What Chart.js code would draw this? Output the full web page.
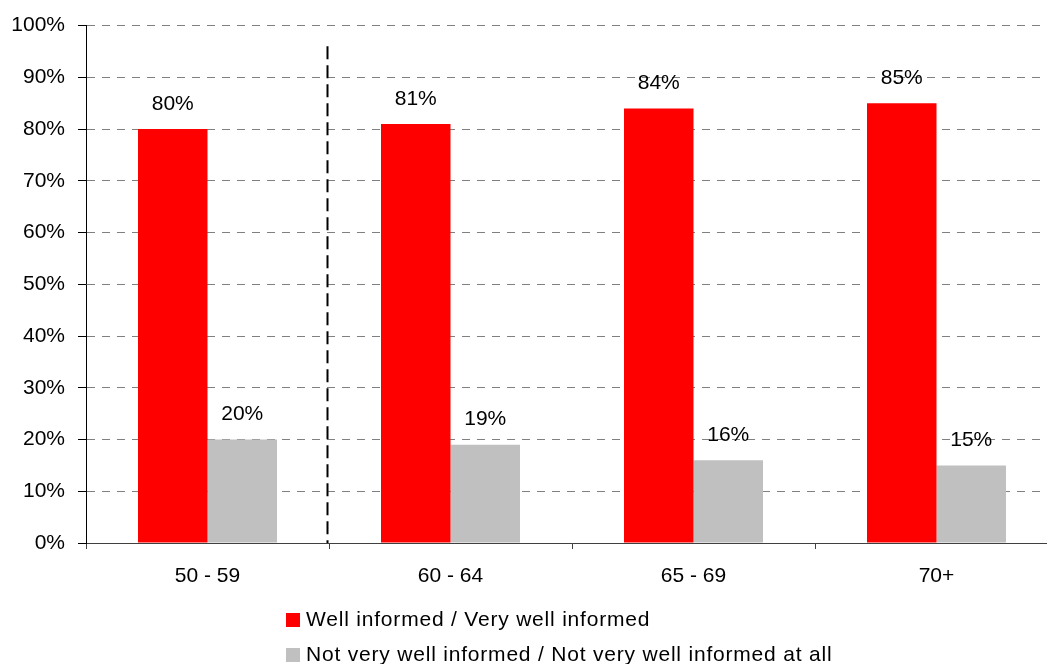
<!DOCTYPE html>
<html>
<head>
<meta charset="utf-8">
<script src="https://cdn.jsdelivr.net/npm/chart.js@4/dist/chart.umd.min.js"></script>
<style>
  html, body { margin: 0; padding: 0; background: #fff; overflow: hidden; }
  #wrap { position: absolute; left: 0; top: 0; width: 1062px; height: 664px; }
</style>
</head>
<body>
<div id="wrap"><canvas id="chart"></canvas></div>
<script>
// age groups and shares (%)
const categories = ['50 - 59', '60 - 64', '65 - 69', '70+'];
const wellInformed = [80, 81, 84, 85];
const notWellInformed = [20, 19, 16, 15];
const seriesNames = ['Well informed / Very well informed', 'Not very well informed / Not very well informed at all'];
const yTicks = [0, 10, 20, 30, 40, 50, 60, 70, 80, 90, 100];

const FONT = '"Liberation Sans", Arial, sans-serif';

// value labels above each bar
const barLabels = {
  id: 'barLabels',
  afterDatasetsDraw(chart) {
    const ctx = chart.ctx;
    ctx.save();
    ctx.font = '21px ' + FONT;
    ctx.fillStyle = '#000';
    ctx.textAlign = 'center';
    ctx.textBaseline = 'middle';
    chart.data.datasets.forEach((ds, i) => {
      chart.getDatasetMeta(i).data.forEach((bar, j) => {
        ctx.fillText(ds.data[j] + '%', bar.x, bar.y - 25);
      });
    });
    ctx.restore();
  }
};

// dashed separator between first and second age group
const divider = {
  id: 'divider',
  afterDatasetsDraw(chart) {
    const x = chart.scales.x, y = chart.scales.y;
    const px = Math.round((x.getPixelForValue(0) + x.getPixelForValue(1)) / 2) - 1.5;
    const ctx = chart.ctx;
    ctx.save();
    ctx.strokeStyle = '#000';
    ctx.lineWidth = 2;
    ctx.setLineDash([13, 6]);
    ctx.beginPath();
    ctx.moveTo(px, y.getPixelForValue(96));
    ctx.lineTo(px, y.getPixelForValue(0));
    ctx.stroke();
    ctx.restore();
  }
};

// stacked legend, left aligned under the plot
const stackedLegend = {
  id: 'stackedLegend',
  afterDraw(chart) {
    const ctx = chart.ctx;
    ctx.save();
    ctx.font = '21px ' + FONT;
    ctx.textBaseline = 'alphabetic';
    ctx.textAlign = 'left';
    if ('letterSpacing' in ctx) ctx.letterSpacing = '0.8px';
    chart.data.datasets.forEach((ds, i) => {
      const base = 626 + i * 35;
      ctx.fillStyle = ds.backgroundColor;
      ctx.fillRect(286, base - 13, 14, 14);
      ctx.fillStyle = '#000';
      ctx.fillText(ds.label, 306, base);
    });
    ctx.restore();
  }
};

new Chart(document.getElementById('chart'), {
  type: 'bar',
  data: {
    labels: categories,
    datasets: [
      { label: seriesNames[0], data: wellInformed, backgroundColor: '#ff0000' },
      { label: seriesNames[1], data: notWellInformed, backgroundColor: '#c0c0c0' }
    ]
  },
  options: {
    responsive: true,
    maintainAspectRatio: false,
    animation: false,
    layout: { padding: { top: 25, right: 4, bottom: 76, left: 0 } },
    datasets: { bar: { categoryPercentage: 0.572, barPercentage: 1 } },
    scales: {
      x: {
        grid: { drawOnChartArea: false, offset: true, tickLength: 6, tickColor: '#404040' },
        border: { color: '#404040' },
        ticks: { color: '#000', padding: 15, font: { family: FONT, size: 21 } },
        afterFit: (s) => { s.height = 45; }
      },
      y: {
        min: 0,
        max: 100,
        afterBuildTicks: (s) => { s.ticks = yTicks.map(v => ({ value: v })); },
        grid: { color: '#808080', tickColor: '#000', tickLength: 8, tickBorderDash: [] },
        border: { color: '#000', dash: [8, 7] },
        ticks: { color: '#000', padding: 13, font: { family: FONT, size: 21 }, callback: v => v + '%' },
        afterFit: (s) => { s.width = 86; }
      }
    },
    plugins: { legend: { display: false }, tooltip: { enabled: false } }
  },
  plugins: [barLabels, divider, stackedLegend]
});
</script>
</body>
</html>
